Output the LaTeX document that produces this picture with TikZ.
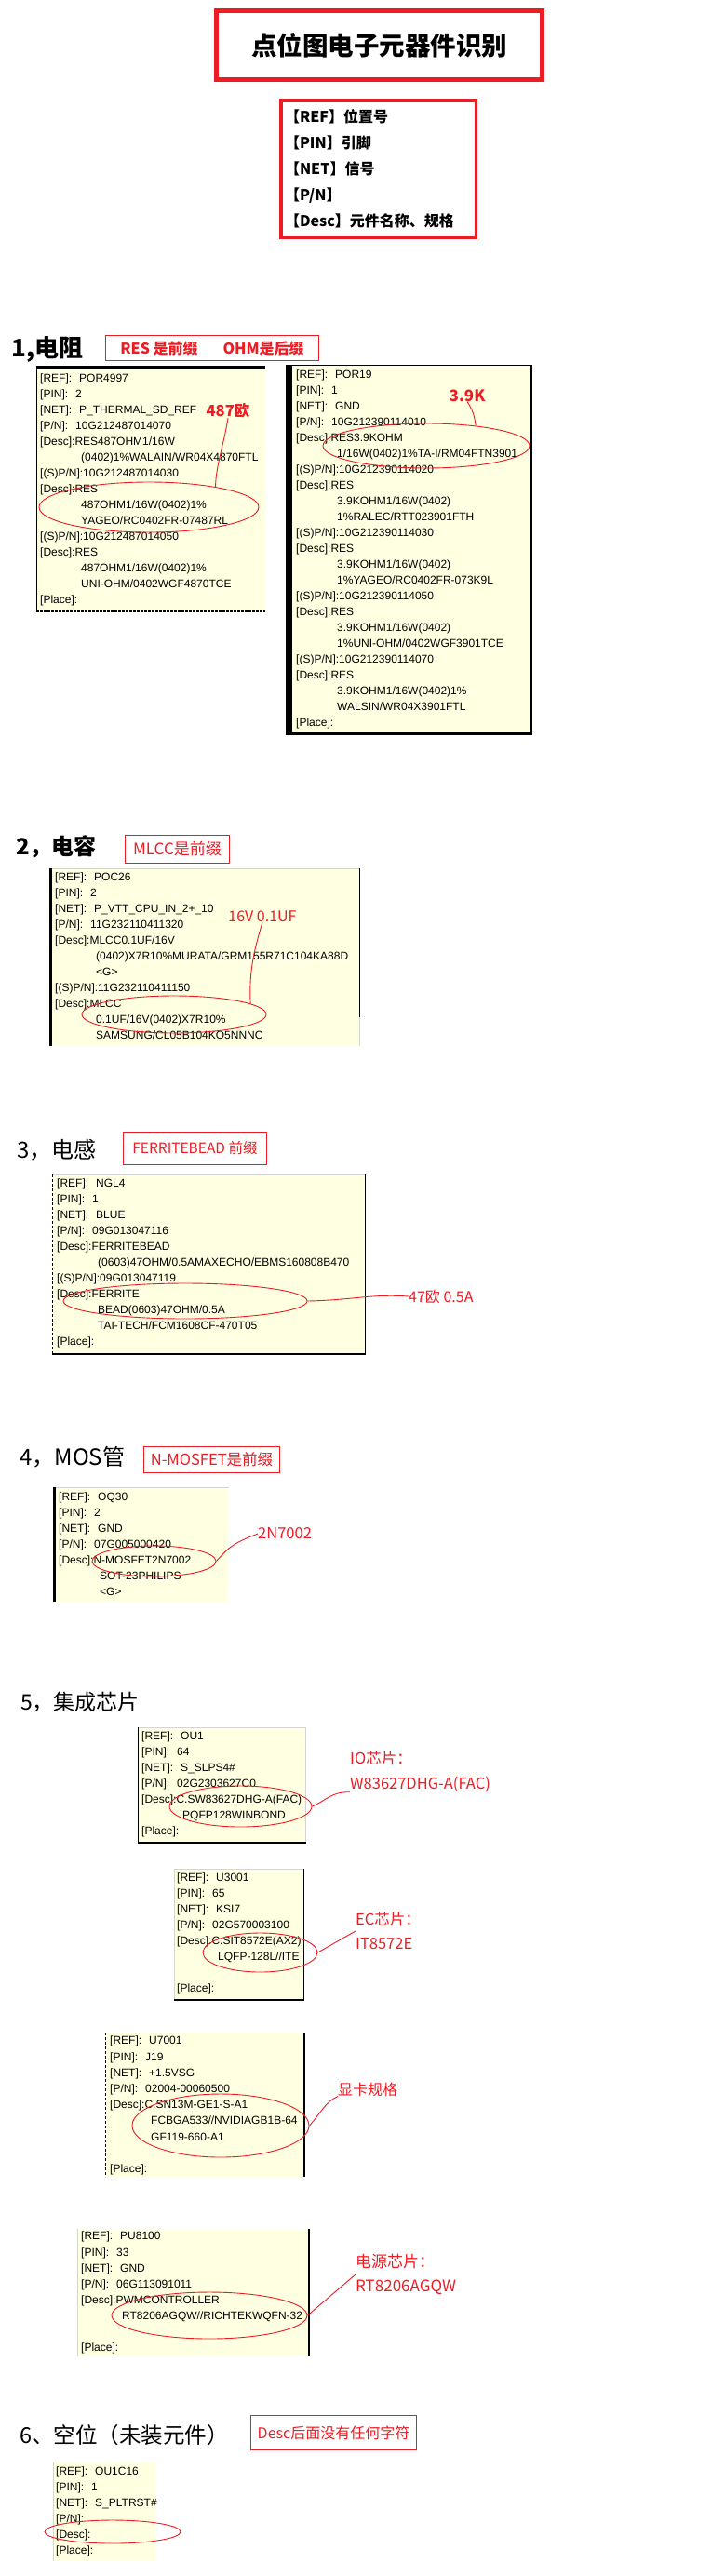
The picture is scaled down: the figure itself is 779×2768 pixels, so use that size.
\documentclass[tikz,border=0pt]{standalone}
\usepackage{fontspec}
\setmainfont{Liberation Sans}
\newfontfamily\cjk{Noto Sans CJK SC}
\usetikzlibrary{shapes.geometric}

\definecolor{tipyellow}{RGB}{255,255,225}
\definecolor{markred}{RGB}{237,28,36}
\definecolor{edgegray}{RGB}{212,212,212}

\newcommand\lineind{\hspace*{44pt}}
\newcommand\fgap{\hspace{8pt}}

\tikzset{
  tip/.style={fill=tipyellow},
  tiptext/.style={anchor=north west, inner sep=0pt, align=left, font=\fontsize{12pt}{#1}\selectfont},
  tiptext/.default=17pt,
  ring/.style={ellipse, draw=markred, line width=0.9pt, inner sep=0pt},
  lead/.style={draw=markred, line width=0.9pt},
  note/.style={text=markred, inner sep=0pt, align=left, font=\cjk\fontsize{16.5pt}{27pt}\selectfont},
  tagbox/.style={draw=markred, line width=1pt, text=markred, inner sep=0pt},
  heading/.style={anchor=west, inner sep=0pt},
  titlebox/.style={draw=markred, line width=5pt, minimum width=350pt, minimum height=74pt, inner sep=0pt,
    font=\cjk\bfseries\fontsize{27.5pt}{30pt}\selectfont},
  legendbox/.style={draw=markred, line width=3.5pt, minimum width=209.5pt, minimum height=147.5pt,
    text width=201pt, inner xsep=4.25pt, inner ysep=0pt, align=left,
    font=\cjk\bfseries\fontsize{16pt}{28pt}\selectfont}
}

\begin{document}
\begin{tikzpicture}[x=1pt, y=-1pt]
  \useasboundingbox (0,0) rectangle (779,2768);

  % title and legend
  \node[titlebox] (title) at (407.5,48.5) {点位图电子元器件识别};
  \node[legendbox] (legend) at (406.5,181.5) {【REF】位置号\\【PIN】引脚\\【NET】信号\\【P/N】\\【Desc】元件名称、规格};

  % 1, resistors
  \node[heading, font=\cjk\bfseries\fontsize{26pt}{30pt}\selectfont] (h1) at (12,375) {1,电阻};
  \node[tagbox, minimum width=229pt, minimum height=27pt, font=\cjk\bfseries\fontsize{16pt}{18pt}\selectfont] (tres) at (228,374) {RES 是前缀\hspace{27pt}OHM是后缀};

  \fill[tip] (39,393) rectangle (285,658);
  \draw[line width=4pt] (39,395) -- (285,395);
  \draw[line width=1pt] (39.5,393) -- (39.5,658);
  \draw[line width=1.5pt, dash pattern=on 3pt off 1pt] (39,657) -- (285,657);
  \node[tiptext] (r1) at (43,402) {[REF]:\fgap POR4997\\{}[PIN]:\fgap 2\\{}[NET]:\fgap P\_THERMAL\_SD\_REF\\{}[P/N]:\fgap 10G212487014070\\{}[Desc]:RES487OHM1/16W\\
    \lineind(0402)1\%WALAIN/WR04X4870FTL\\{}[(S)P/N]:10G212487014030\\{}[Desc]:RES\\\lineind 487OHM1/16W(0402)1\%\\\lineind YAGEO/RC0402FR-07487RL\\
    {}[(S)P/N]:10G212487014050\\{}[Desc]:RES\\\lineind 487OHM1/16W(0402)1\%\\\lineind UNI-OHM/0402WGF4870TCE\\{}[Place]:};

  \fill[tip] (307,392) rectangle (572,790);
  \fill (307,392) rectangle (314,790);
  \draw[line width=1pt] (307,392.5) -- (572,392.5);
  \fill (569,392) rectangle (572,790);
  \fill (307,787) rectangle (572,790);
  \node[tiptext] (r2) at (318,398) {[REF]:\fgap POR19\\{}[PIN]:\fgap 1\\{}[NET]:\fgap GND\\{}[P/N]:\fgap 10G212390114010\\{}[Desc]:RES3.9KOHM\\
    \lineind 1/16W(0402)1\%TA-I/RM04FTN3901\\{}[(S)P/N]:10G212390114020\\{}[Desc]:RES\\\lineind 3.9KOHM1/16W(0402)\\\lineind 1\%RALEC/RTT023901FTH\\
    {}[(S)P/N]:10G212390114030\\{}[Desc]:RES\\\lineind 3.9KOHM1/16W(0402)\\\lineind 1\%YAGEO/RC0402FR-073K9L\\
    {}[(S)P/N]:10G212390114050\\{}[Desc]:RES\\\lineind 3.9KOHM1/16W(0402)\\\lineind 1\%UNI-OHM/0402WGF3901TCE\\
    {}[(S)P/N]:10G212390114070\\{}[Desc]:RES\\\lineind 3.9KOHM1/16W(0402)1\%\\\lineind WALSIN/WR04X3901FTL\\{}[Place]:};

  \node[ring, minimum width=236pt, minimum height=54pt] (e487) at (160,545) {};
  \node[note, font=\cjk\bfseries\fontsize{16.5pt}{20pt}\selectfont] (a487) at (245,441) {487欧};
  \draw[lead] (a487.south) .. controls (240,480) and (232,500) .. (e487.17);

  \node[ring, minimum width=222pt, minimum height=48pt] (e39k) at (458,479) {};
  \node[note, font=\cjk\bfseries\fontsize{17pt}{20pt}\selectfont] (a39k) at (502,425) {3.9K};
  \draw[lead] (a39k.south) .. controls (508,440) and (510,448) .. (e39k.22);

  % 2, capacitor
  \node[heading, font=\cjk\bfseries\fontsize{24pt}{28pt}\selectfont] (h2) at (17,910) {2，电容};
  \node[tagbox, minimum width=112pt, minimum height=30pt, font=\cjk\fontsize{17pt}{20pt}\selectfont] (tmlcc) at (190.5,912.5) {MLCC是前缀};

  \fill[tip] (53,933) rectangle (387,1124);
  \draw[edgegray, line width=1pt] (53,933.5) -- (387,933.5);
  \fill (53,933) rectangle (56,1124);
  \draw[line width=1pt] (386.5,933) -- (386.5,1093);
  \draw[edgegray, line width=1pt] (386.5,1093) -- (386.5,1124);
  \node[tiptext] (c1) at (59,938) {[REF]:\fgap POC26\\{}[PIN]:\fgap 2\\{}[NET]:\fgap P\_VTT\_CPU\_IN\_2+\_10\\{}[P/N]:\fgap 11G232110411320\\{}[Desc]:MLCC0.1UF/16V\\
    \lineind(0402)X7R10\%MURATA/GRM155R71C104KA88D\\\lineind <G>\\{}[(S)P/N]:11G232110411150\\{}[Desc]:MLCC\\\lineind 0.1UF/16V(0402)X7R10\%\\\lineind SAMSUNG/CL05B104KO5NNNC};

  \node[ring, minimum width=198pt, minimum height=40pt] (e01uf) at (187,1090) {};
  \node[note, font=\cjk\fontsize{16pt}{20pt}\selectfont] (a01uf) at (282,985) {16V 0.1UF};
  \draw[lead] (a01uf.south) .. controls (270,1030) and (268,1050) .. (e01uf.8);

  % 3, inductor
  \node[heading, font=\cjk\fontsize{24pt}{28pt}\selectfont] (h3) at (18,1236) {3，电感};
  \node[tagbox, minimum width=154pt, minimum height=35pt, font=\cjk\fontsize{15.5pt}{18pt}\selectfont] (tferr) at (209.5,1234) {FERRITEBEAD 前缀};

  \fill[tip] (56,1262) rectangle (393,1456);
  \draw[edgegray, line width=1pt] (56,1262.5) -- (393,1262.5);
  \draw[line width=1pt, dash pattern=on 3pt off 2pt] (56.5,1262) -- (56.5,1456);
  \draw[line width=1pt] (392.5,1262) -- (392.5,1456);
  \draw[line width=2pt] (56,1455) -- (393,1455);
  \node[tiptext] (l1) at (61,1267) {[REF]:\fgap NGL4\\{}[PIN]:\fgap 1\\{}[NET]:\fgap BLUE\\{}[P/N]:\fgap 09G013047116\\{}[Desc]:FERRITEBEAD\\
    \lineind(0603)47OHM/0.5AMAXECHO/EBMS160808B470\\{}[(S)P/N]:09G013047119\\{}[Desc]:FERRITE\\\lineind BEAD(0603)47OHM/0.5A\\\lineind TAI-TECH/FCM1608CF-470T05\\{}[Place]:};

  \node[ring, minimum width=262pt, minimum height=38pt] (eferr) at (199,1398) {};
  \node[note, anchor=west, font=\cjk\fontsize{16pt}{20pt}\selectfont] (a47) at (439,1393) {47欧 0.5A};
  \draw[lead] (eferr.east) .. controls (380,1397) and (400,1390) .. (a47.west);

  % 4, MOSFET
  \node[heading, font=\cjk\fontsize{24pt}{28pt}\selectfont] (h4) at (21,1566) {4，MOS管};
  \node[tagbox, minimum width=146pt, minimum height=28pt, font=\cjk\fontsize{16.5pt}{20pt}\selectfont] (tmos) at (227.5,1568.5) {N-MOSFET是前缀};

  \fill[tip] (57,1598) rectangle (246,1721);
  \draw[edgegray, line width=1pt] (57,1598.5) -- (246,1598.5);
  \fill (57,1598) rectangle (60,1721);
  \node[tiptext] (m1) at (63,1604) {[REF]:\fgap OQ30\\{}[PIN]:\fgap 2\\{}[NET]:\fgap GND\\{}[P/N]:\fgap 07G005000420\\{}[Desc]:N-MOSFET2N7002\\\lineind SOT-23PHILIPS\\\lineind <G>};

  \node[ring, minimum width=133pt, minimum height=33pt] (emos) at (165.5,1677.5) {};
  \node[note, anchor=west] (a2n) at (277,1648) {2N7002};
  \draw[lead] (emos.east) .. controls (248,1660) and (252,1658) .. (a2n.west);

  % 5, ICs
  \node[heading, font=\cjk\fontsize{23pt}{27pt}\selectfont] (h5) at (22,1829) {5，集成芯片};

  \fill[tip] (148,1856) rectangle (329,1981);
  \draw[edgegray, line width=1pt] (148,1856.5) -- (328.5,1856.5) -- (328.5,1981);
  \draw[line width=1pt] (148.5,1856) -- (148.5,1981);
  \draw[line width=2pt] (148,1980) -- (329,1980);
  \node[tiptext] (u1) at (152,1861) {[REF]:\fgap OU1\\{}[PIN]:\fgap 64\\{}[NET]:\fgap S\_SLPS4\#\\{}[P/N]:\fgap 02G2303627C0\\{}[Desc]:C.SW83627DHG-A(FAC)\\\lineind PQFP128WINBOND\\{}[Place]:};

  \node[ring, minimum width=153pt, minimum height=44pt] (eio) at (258.5,1941) {};
  \node[note, anchor=west] (aio) at (376,1903.5) {IO芯片：\\W83627DHG-A(FAC)};
  \draw[lead] (eio.east) .. controls (350,1935) and (356,1925) .. (aio.south west);

  \fill[tip] (187,2008) rectangle (327,2150);
  \draw[edgegray, line width=1pt] (187.5,2150) -- (187.5,2008.5) -- (327,2008.5);
  \draw[line width=1pt] (326.5,2008) -- (326.5,2150);
  \draw[line width=2pt] (187,2149) -- (327,2149);
  \node[tiptext] (u2) at (190,2013) {[REF]:\fgap U3001\\{}[PIN]:\fgap 65\\{}[NET]:\fgap KSI7\\{}[P/N]:\fgap 02G570003100\\{}[Desc]:C.SIT8572E(AX2)\\\lineind LQFP-128L//ITE\\\mbox{}\\{}[Place]:};

  \node[ring, minimum width=123pt, minimum height=42pt] (eec) at (279.5,2098) {};
  \node[note, anchor=west, font=\cjk\fontsize{16.5pt}{26pt}\selectfont] (aec) at (382,2075) {EC芯片：\\IT8572E};
  \draw[lead] (eec.east) -- (aec.west);

  \fill[tip] (113,2184) rectangle (328,2339);
  \draw[line width=1pt, dash pattern=on 3pt off 2pt] (113.5,2184) -- (113.5,2339);
  \draw[line width=2pt] (327,2184) -- (327,2339);
  \node[tiptext=17.2pt] (u3) at (118,2188) {[REF]:\fgap U7001\\{}[PIN]:\fgap J19\\{}[NET]:\fgap +1.5VSG\\{}[P/N]:\fgap 02004-00060500\\{}[Desc]:C.SN13M-GE1-S-A1\\\lineind FCBGA533//NVIDIAGB1B-64\\\lineind GF119-660-A1\\\mbox{}\\{}[Place]:};

  \node[ring, minimum width=190pt, minimum height=68pt] (egpu) at (237,2284) {};
  \node[note, anchor=west, font=\cjk\fontsize{16pt}{20pt}\selectfont] (agpu) at (363,2245) {显卡规格};
  \draw[lead] (egpu.east) .. controls (345,2270) and (350,2258) .. (agpu.south west);

  \fill[tip] (83,2395) rectangle (333,2532);
  \draw[edgegray, line width=1pt] (83.5,2395) -- (83.5,2532);
  \draw[line width=2pt] (332,2395) -- (332,2532);
  \node[tiptext=17.1pt] (u4) at (87,2398) {[REF]:\fgap PU8100\\{}[PIN]:\fgap 33\\{}[NET]:\fgap GND\\{}[P/N]:\fgap 06G113091011\\{}[Desc]:PWMCONTROLLER\\\lineind RT8206AGQW//RICHTEKWQFN-32\\\mbox{}\\{}[Place]:};

  \node[ring, minimum width=210pt, minimum height=50pt] (epwm) at (225,2488) {};
  \node[note, anchor=west, font=\cjk\fontsize{17pt}{26pt}\selectfont] (apwm) at (382,2444) {电源芯片：\\RT8206AGQW};
  \draw[lead] (epwm.east) -- (apwm.west);

  % 6, empty place
  \node[heading, font=\cjk\fontsize{23.5pt}{27pt}\selectfont] (h6) at (21,2617) {6、空位（未装元件）};
  \node[tagbox, minimum width=178pt, minimum height=37pt, font=\cjk\fontsize{16pt}{20pt}\selectfont] (tdesc) at (358.5,2614) {Desc后面没有任何字符};

  \fill[tip] (57,2646) rectangle (167,2752);
  \draw[edgegray, line width=1pt] (57.5,2646) -- (57.5,2752);
  \node[tiptext] (e1) at (60,2651) {[REF]:\fgap OU1C16\\{}[PIN]:\fgap 1\\{}[NET]:\fgap S\_PLTRST\#\\{}[P/N]:\\{}[Desc]:\\{}[Place]:};

  \node[ring, minimum width=146pt, minimum height=25pt] (eempty) at (121,2720.5) {};

\end{tikzpicture}
\end{document}
